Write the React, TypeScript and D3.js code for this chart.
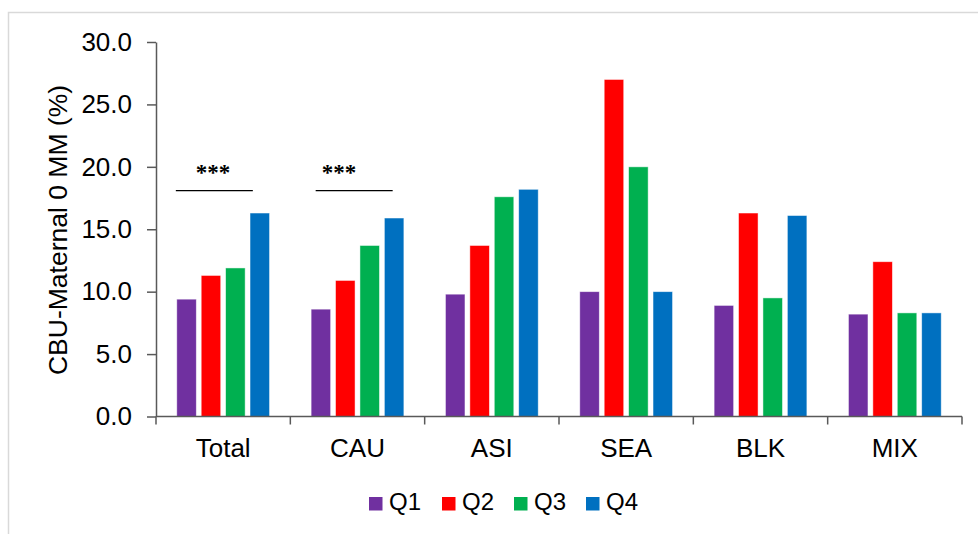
import { useEffect, useRef } from 'react';
import * as d3 from 'd3';

const categories = ['Total', 'CAU', 'ASI', 'SEA', 'BLK', 'MIX'];
const quarters = ['Q1', 'Q2', 'Q3', 'Q4'];
const colors = ['#7030A0', '#FF0000', '#00B050', '#0070C0'];

const q1 = [9.4, 8.6, 9.8, 10.0, 8.9, 8.2];
const q2 = [11.3, 10.9, 13.7, 27.0, 16.3, 12.4];
const q3 = [11.9, 13.7, 17.6, 20.0, 9.5, 8.3];
const q4 = [16.3, 15.9, 18.2, 10.0, 16.1, 8.3];
const series = [q1, q2, q3, q4];

const yTicks = [0, 5, 10, 15, 20, 25, 30];
const significant = ['Total', 'CAU'];

const W = 978;
const H = 534;
const FONT = "'Liberation Sans', Arial, sans-serif";

export default function App() {
  const svgRef = useRef<SVGSVGElement>(null);

  useEffect(() => {
    if (!svgRef.current) return;
    const svg = d3.select(svgRef.current);
    svg.selectAll('*').remove();

    const left = 156;
    const right = 962;
    const bottom = 416.5;
    const top = 42;

    // chart frame (light gray, runs off the page on right / bottom)
    svg.append('rect')
      .attr('x', 8.5).attr('y', 12.5)
      .attr('width', W).attr('height', H)
      .attr('fill', 'none')
      .attr('stroke', '#d9d9d9')
      .attr('stroke-width', 1.5);

    const x = d3.scaleBand<string>()
      .domain(categories)
      .range([left, right])
      .paddingInner(0.273)
      .paddingOuter(0.1365);

    const xq = d3.scaleBand<string>()
      .domain(quarters)
      .range([0, x.bandwidth()])
      .paddingInner(0.2)
      .paddingOuter(0.1);

    const y = d3.scaleLinear().domain([0, 30]).range([bottom, top]);

    // bars
    categories.forEach((cat, ci) => {
      const g = svg.append('g').attr('transform', `translate(${x(cat)},0)`);
      series.forEach((vals, si) => {
        g.append('rect')
          .attr('x', xq(quarters[si])!)
          .attr('y', y(vals[ci]))
          .attr('width', xq.bandwidth())
          .attr('height', y(0) - y(vals[ci]))
          .attr('fill', colors[si])
          .attr('stroke', '#ffffff')
          .attr('stroke-opacity', 0.6)
          .attr('stroke-width', 0.8);
      });
    });

    // y axis
    const yAxis = svg.append('g')
      .attr('transform', `translate(${left},0)`)
      .call(
        d3.axisLeft(y)
          .tickValues(yTicks)
          .tickFormat(d3.format('.1f'))
          .tickSize(9)
          .tickPadding(15)
          .tickSizeOuter(0)
      );
    yAxis.select('.domain').attr('stroke', '#595959').attr('stroke-width', 1.5);
    yAxis.selectAll('.tick line').attr('stroke', '#595959').attr('stroke-width', 1.5);
    yAxis.selectAll('.tick text')
      .attr('fill', '#000')
      .style('font-family', FONT)
      .style('font-size', '26px');

    // x axis: line plus ticks on category boundaries
    const xa = svg.append('g');
    xa.append('line')
      .attr('x1', left).attr('x2', right)
      .attr('y1', y(0)).attr('y2', y(0))
      .attr('stroke', '#595959').attr('stroke-width', 1.5);
    d3.range(categories.length + 1).forEach((i) => {
      const bx = left + i * x.step();
      xa.append('line')
        .attr('x1', bx).attr('x2', bx)
        .attr('y1', y(0)).attr('y2', y(0) + 8)
        .attr('stroke', '#595959').attr('stroke-width', 1.5);
    });
    categories.forEach((cat) => {
      xa.append('text')
        .attr('x', x(cat)! + x.bandwidth() / 2)
        .attr('y', 457)
        .attr('text-anchor', 'middle')
        .style('font-family', FONT)
        .style('font-size', '26px')
        .text(cat);
    });

    // y axis title
    svg.append('text')
      .attr('transform', `translate(67,230) rotate(-90)`)
      .attr('text-anchor', 'middle')
      .style('font-family', FONT)
      .style('font-size', '26.5px')
      .text('CBU-Maternal 0 MM (%)');

    // significance markers
    significant.forEach((cat, i) => {
      const x0 = x(cat)! + (i === 0 ? 1.5 : 7);
      svg.append('line')
        .attr('x1', x0).attr('x2', x0 + 77)
        .attr('y1', y(18.1)).attr('y2', y(18.1))
        .attr('stroke', '#000').attr('stroke-width', 1.2);
      svg.append('text')
        .attr('x', x0 + (i === 0 ? 20 : 6))
        .attr('y', y(18.1) - 11)
        .style('font-family', "'Liberation Serif', 'Times New Roman', serif")
        .style('font-size', '23px')
        .style('font-weight', 'bold')
        .text('***');
    });

    // legend
    const legendX = [369, 442, 514, 586];
    const lg = svg.append('g');
    quarters.forEach((q, i) => {
      lg.append('rect')
        .attr('x', legendX[i]).attr('y', 497)
        .attr('width', 13.5).attr('height', 13.5)
        .attr('fill', colors[i]);
      lg.append('text')
        .attr('x', legendX[i] + 20)
        .attr('y', 510)
        .style('font-family', FONT)
        .style('font-size', '24px')
        .text(q);
    });
  }, []);

  return (
    <svg
      ref={svgRef}
      width={W}
      height={H}
      style={{ position: 'absolute', left: 0, top: 0, background: '#fff' }}
    />
  );
}
